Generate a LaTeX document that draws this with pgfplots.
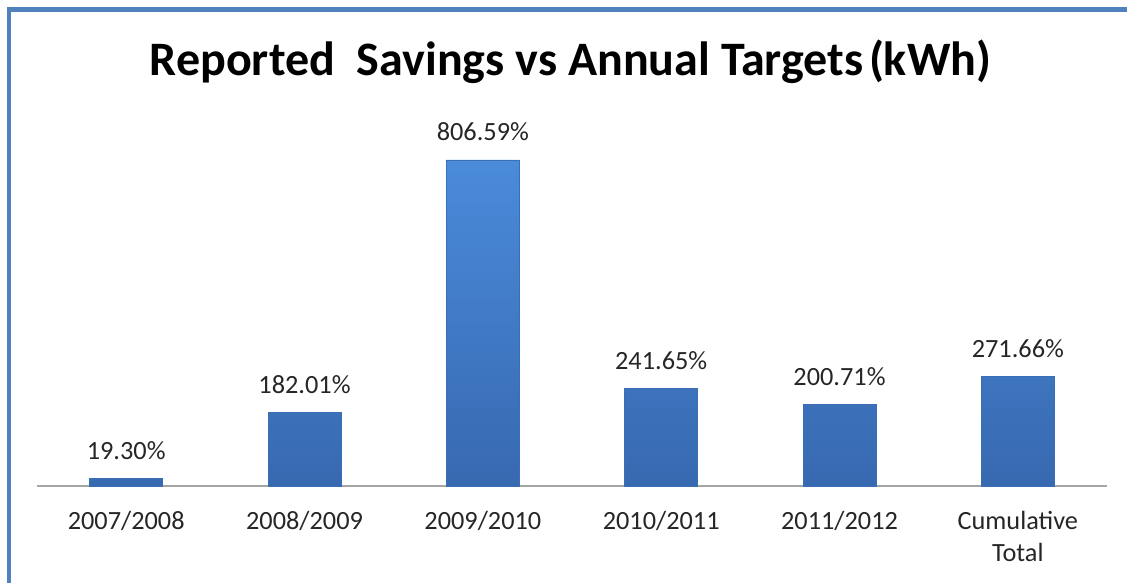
\documentclass[border=0pt]{standalone}
\usepackage{pgfplots}
\pgfplotsset{compat=1.18}
\usepackage{fontspec}
\setmainfont{Carlito}
\definecolor{frameblue}{HTML}{4F81BD}
\definecolor{bartop}{HTML}{4A8BDA}
\definecolor{barbot}{HTML}{3769B0}
\definecolor{baredge}{HTML}{3A6EB5}
\definecolor{labeltext}{HTML}{262626}
\begin{document}
\begin{tikzpicture}[x=1bp,y=1bp]
\path[use as bounding box] (0,0) rectangle (1127,583);
\draw[frameblue, line width=4.5bp] (9,0) -- (9,573.5) -- (1127,573.5);
\node[anchor=base, inner sep=0pt, font=\fontsize{48.2}{52}\selectfont\bfseries] at (570.5,507) {Reported\ \ Savings vs Annual Targets\hspace{0.12em}(kWh)};
\begin{axis}[
  at={(37bp,97bp)}, anchor=south west,
  scale only axis, width=1070bp, height=363.8bp,
  xmin=-0.5, xmax=5.5, ymin=0, ymax=900,
  axis x line*=bottom, axis y line=none,
  x axis line style={draw=black!35, line width=1.3bp, -},
  xtick={0,1,2,3,4,5},
  xticklabels={2007/2008,2008/2009,2009/2010,2010/2011,2011/2012,{\begin{tabular}[t]{@{}c@{}}Cumulative\\Total\end{tabular}}},
  major tick length=0pt, xtick style={draw=none},
  xticklabel style={font=\fontsize{26.4}{32}\selectfont, text=labeltext, anchor=base, inner sep=0pt, yshift=-44bp},
  ytick=\empty,
  clip=false,
  /pgf/number format/assume math mode=true,
  nodes near coords={\pgfmathprintnumber[fixed,fixed zerofill,precision=2,assume math mode=true]{\pgfplotspointmeta}\%},
  every node near coord/.append style={font=\fontsize{26.4}{32}\selectfont, text=labeltext, anchor=base, inner sep=0pt, yshift=19bp},
]
\addplot[ybar, bar width=73bp, bar shift=0pt, draw=baredge, line width=0.8bp, top color=bartop, bottom color=barbot]
  coordinates {(0,19.30) (1,182.01) (2,806.59) (3,241.65) (4,200.71) (5,271.66)};
\end{axis}
\end{tikzpicture}
\end{document}
